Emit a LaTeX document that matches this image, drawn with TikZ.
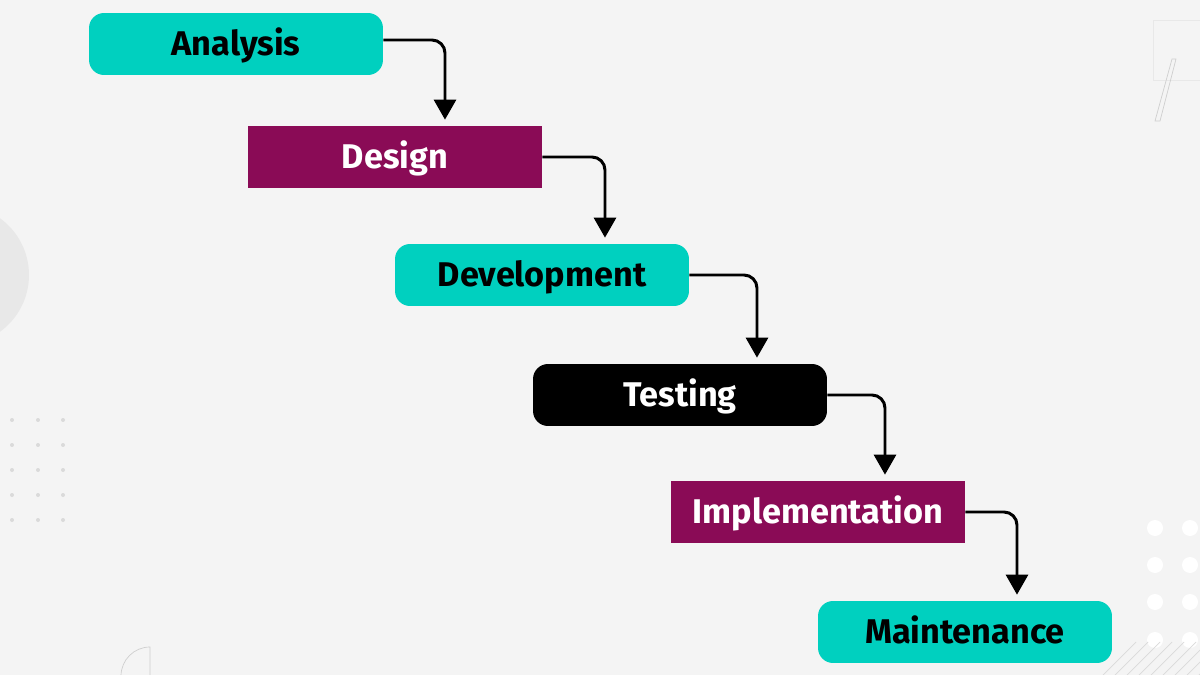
\documentclass[tikz,border=0pt]{standalone}
\usepackage{fontspec}
\setmainfont{Fira Sans}
\usetikzlibrary{arrows.meta}

\definecolor{bgray}{HTML}{F4F4F4}
\definecolor{phaseteal}{HTML}{00D0BF}
\definecolor{phaseplum}{HTML}{8A0B56}
\definecolor{decogray}{HTML}{E8E8E8}
\definecolor{dotgray}{HTML}{DADADA}
\definecolor{linegray}{HTML}{CFCFCF}

\tikzset{
  phase/.style={minimum width=5.88cm, minimum height=1.24cm, inner sep=0pt,
    text height=13.6pt, text depth=0pt,
    font=\fontsize{19.5}{21}\selectfont\bfseries},
  roundphase/.style={phase, rounded corners=0.3cm},
  flow/.style={line width=1.7pt, rounded corners=0.26cm,
    -{Triangle[width=0.44cm, length=0.4cm]}, shorten >=0.12cm},
}

\begin{document}
\begin{tikzpicture}[x=0.02cm, y=-0.02cm]
\useasboundingbox (0,0) rectangle (1200,675);
\clip (0,0) rectangle (1200,675);
\fill[bgray] (0,0) rectangle (1200,675);

% decoration
\fill[decogray] (-41,275) circle (1.4cm);
\foreach \x in {12,38,63} \foreach \y in {420,445,...,521} \fill[dotgray] (\x,\y) circle (0.04cm);
\foreach \x in {1155,1190} \foreach \y in {528,565,602,640} \fill[white] (\x,\y) circle (0.16cm);
\foreach \i in {0,...,9} \draw[dotgray, thin] (1100+\i*12,678) -- ++(36,-36);
\draw[decogray, thin] (1153,20) rectangle (1210,80);
\draw[linegray, thin] (1172,59) -- (1176,59) -- (1160,121) -- (1155,121) -- cycle;
\draw[linegray, thin] (150,676) -- (150,647) arc (90:180:0.58cm) -- ++(0,2);

% phases
\node[roundphase, fill=phaseteal, text=black] (ana) at (236,44) {Analysis};
\node[phase, fill=phaseplum, text=white] (des) at (395,157) {Design};
\node[roundphase, fill=phaseteal, text=black] (dev) at (542,275) {Development};
\node[roundphase, fill=black, text=white] (tes) at (680,395) {Testing};
\node[phase, fill=phaseplum, text=white] (imp) at (818,512) {Implementation};
\node[roundphase, fill=phaseteal, text=black] (mai) at (965,632) {Maintenance};

% arrows
\draw[flow] ([yshift=0.08cm]ana.east) -| ([xshift=1cm]des.north);
\draw[flow] (des.east) -| ([xshift=1.26cm]dev.north);
\draw[flow] (dev.east) -| ([xshift=1.54cm]tes.north);
\draw[flow] (tes.east) -| ([xshift=1.34cm]imp.north);
\draw[flow] (imp.east) -| ([xshift=1.04cm]mai.north);
\end{tikzpicture}
\end{document}
